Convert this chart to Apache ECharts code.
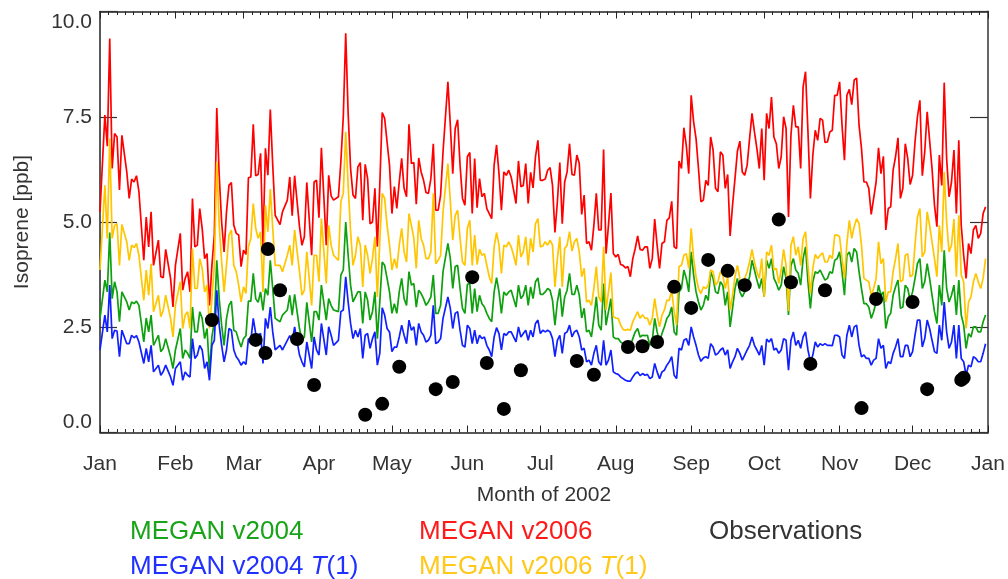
<!DOCTYPE html>
<html><head><meta charset="utf-8">
<script src="https://cdn.jsdelivr.net/npm/echarts@6/dist/echarts.min.js"></script>
<style>html,body{margin:0;padding:0;background:#fff}#c{width:1008px;height:579px}</style>
</head><body><div id="c"></div>
<script>
// Day of year 2002 (0 = Jan 1)
const days = [0,2,3,4,5,6,7,8,9,11,12,13,14,15,16,18,19,20,21,22,24,25,26,27,29,30,31,33,34,35,36,37,38,39,40,41,42,43,44,45,46,47,48,49,50,51,52,53,54,55,56,57,58,59,60,
61,62,63,64,65,66,67,68,69,70,71,72,74,75,77,78,79,80,82,83,84,85,87,88,89,90,91,93,94,95,96,98,99,100,101,102,103,104,105,106,107,108,109,110,111,112,113,114,115,116,117,118,119,120,
121,122,123,124,125,126,127,128,129,130,131,132,133,134,135,136,137,138,139,140,141,143,144,145,146,147,148,149,150,151,152,153,154,155,156,157,158,159,160,161,162,163,164,165,166,167,168,169,170,171,172,173,174,175,176,177,178,179,180,181,
182,183,184,185,186,187,188,189,190,191,192,193,194,195,196,197,198,199,200,201,202,203,204,205,206,207,208,209,210,211,212,213,214,215,216,217,218,219,220,221,222,223,224,225,226,227,228,229,230,231,232,233,234,235,236,237,238,239,240,241,242,
243,244,245,246,247,248,249,250,251,252,253,254,255,256,257,258,259,260,261,262,263,264,265,266,267,268,269,270,271,272,273,274,275,276,277,278,279,280,281,282,283,284,285,286,287,288,289,290,291,292,293,294,295,296,297,298,299,300,301,302,303,
304,305,306,307,308,309,310,311,312,313,314,315,316,317,318,319,320,321,322,323,324,325,326,327,328,329,330,331,332,333,334,335,336,337,338,339,340,341,342,343,344,345,346,347,348,349,350,351,352,353,354,355,356,357,358,359,360,361,362,363,364];

const meganV2006 = [5.24,7.54,6.80,9.36,6.27,7.10,7.02,5.76,7.06,6.19,5.56,6.02,5.95,6.10,5.72,4.09,5.12,4.41,5.24,3.97,4.57,3.70,3.68,4.35,3.66,2.98,3.97,4.73,3.38,3.66,3.82,3.34,5.56,4.41,4.45,5.32,4.85,4.13,4.25,3.02,3.97,4.69,7.71,6.11,5.00,4.29,5.24,5.87,5.94,4.92,4.73,4.69,3.94,4.33,4.23,
6.05,6.07,7.32,6.10,6.13,6.63,4.45,6.75,6.11,7.67,6.35,5.16,4.94,5.24,5.52,6.07,5.15,6.10,4.89,4.45,4.65,5.94,4.21,5.95,5.99,5.10,6.76,4.45,6.11,5.62,5.52,5.60,6.43,7.50,9.48,7.58,6.27,5.64,5.56,6.31,6.41,5.04,6.37,6.03,4.96,5.00,5.80,4.41,5.87,7.60,7.46,6.90,6.35,5.20,
5.84,5.32,5.95,6.51,5.80,5.60,7.32,6.39,6.41,5.42,6.52,6.19,5.99,5.70,5.68,6.03,6.86,5.28,5.28,5.64,6.67,8.33,7.30,6.15,7.22,7.43,6.35,5.56,5.40,6.55,6.65,5.20,6.51,5.34,6.03,5.60,5.68,5.32,5.20,5.08,6.35,6.83,6.15,5.28,6.19,6.11,6.23,6.07,5.76,5.44,6.45,5.84,5.87,6.39,5.44,6.18,5.81,6.55,6.94,5.99,
5.99,6.02,6.23,6.29,5.87,4.75,5.48,6.41,4.96,5.95,6.19,6.86,6.13,6.11,6.59,6.39,5.18,5.64,4.49,4.53,4.33,4.92,5.68,4.81,4.81,6.72,4.25,4.92,5.69,4.25,4.17,4.23,3.99,3.97,3.91,3.94,3.70,4.13,4.37,4.67,4.35,4.33,4.41,4.41,3.90,4.13,5.07,4.45,3.90,4.49,4.53,5.04,5.10,5.49,4.41,4.37,6.45,6.27,7.24,6.81,6.15,
8.01,7.38,6.98,6.27,5.48,5.52,5.99,5.87,7.02,6.71,5.80,5.72,6.67,6.59,5.80,6.13,4.67,5.40,6.03,6.68,6.92,6.19,6.11,6.35,6.98,7.58,7.14,6.75,6.27,7.22,5.99,7.58,7.22,7.97,7.02,6.86,6.27,6.55,7.50,7.22,5.12,7.06,7.77,7.26,7.26,6.27,8.21,8.57,7.14,5.56,6.59,7.18,6.94,7.46,7.42,6.89,6.90,7.14,7.18,8.01,8.01,
8.33,7.30,6.47,8.01,8.15,7.79,8.37,8.42,7.30,6.75,5.95,5.95,5.80,5.18,5.56,5.95,6.76,6.15,6.56,4.81,5.32,5.36,6.23,6.55,7.00,5.56,5.80,6.86,6.51,5.89,6.11,6.90,7.50,7.89,6.10,6.67,7.62,6.94,6.27,5.40,4.89,6.59,5.87,8.31,6.51,5.60,5.95,6.71,5.20,6.94,4.92,4.21,3.66,4.49,4.25,4.81,4.92,4.61,4.73,5.20,5.36];

const meganV2006T1 = [3.86,5.87,4.61,6.98,4.61,4.92,4.96,3.97,4.94,4.53,4.09,4.45,4.39,4.49,4.21,3.14,3.86,3.26,4.01,2.87,3.26,2.75,2.90,3.26,2.71,2.27,3.02,3.58,2.47,2.79,2.87,2.47,4.37,3.42,3.42,4.13,3.90,3.34,3.50,2.47,3.18,3.97,6.43,4.92,4.05,3.34,3.97,4.69,4.81,3.97,3.82,3.50,3.10,3.46,3.30,
4.41,4.61,5.44,4.85,4.61,4.77,3.34,5.40,4.77,5.78,4.85,3.97,3.97,3.82,4.21,4.45,3.97,4.81,3.82,3.26,3.38,4.29,3.02,4.21,4.21,3.58,5.08,3.54,4.92,4.45,4.21,4.09,5.48,5.68,7.14,5.87,4.77,3.97,4.21,4.65,4.45,3.46,4.45,4.21,3.78,4.13,4.65,3.22,4.53,5.68,5.56,4.92,4.45,3.86,
4.13,3.90,4.45,4.85,4.29,4.05,5.20,4.92,4.61,3.90,5.04,4.61,4.45,4.13,4.13,4.29,5.68,4.01,4.09,4.21,5.24,6.39,5.48,4.57,5.16,5.28,4.61,4.05,3.97,4.85,5.04,3.97,4.69,3.99,4.35,4.21,4.25,3.97,3.70,3.54,4.41,4.75,4.45,3.78,4.45,4.41,4.53,4.41,4.21,3.97,4.69,4.17,4.29,4.65,3.97,4.61,4.29,4.96,5.08,4.41,
4.43,4.53,4.45,4.57,4.45,3.46,4.13,4.65,3.46,4.37,4.45,4.77,4.31,4.53,4.61,4.29,3.70,3.90,3.10,3.14,3.02,3.42,3.94,3.22,3.10,4.41,2.91,3.34,3.80,2.75,2.72,2.71,2.55,2.45,2.43,2.45,2.43,2.63,2.75,2.87,2.71,2.80,2.71,2.72,2.55,2.71,3.18,2.79,2.51,2.79,2.91,3.14,3.14,3.38,2.87,2.55,3.94,3.97,4.21,4.25,3.90,
4.85,4.13,3.70,3.42,3.30,3.46,3.42,3.50,3.86,3.82,3.50,3.58,3.82,3.74,3.42,3.70,2.91,3.26,3.70,3.97,3.66,3.42,3.66,3.82,4.05,4.35,4.05,3.82,3.66,4.13,3.22,4.29,4.21,4.45,3.86,3.90,3.54,3.86,4.35,3.97,2.88,4.45,4.65,4.21,4.41,3.97,4.61,4.77,3.97,3.30,3.90,4.23,4.13,4.21,4.27,4.05,4.05,4.21,4.13,4.69,4.69,
4.65,4.13,3.66,4.49,5.04,4.61,4.89,5.08,4.96,4.45,3.66,3.62,3.58,3.26,3.42,3.66,4.53,4.01,4.13,3.10,3.34,3.34,3.82,4.13,4.49,3.58,3.62,4.21,4.25,3.70,3.74,4.45,5.12,5.32,4.17,4.29,5.24,4.92,4.53,4.13,3.70,4.92,4.29,6.19,5.00,4.29,4.45,5.07,3.70,5.16,3.74,3.58,2.47,3.10,3.22,3.58,3.78,3.58,3.42,3.66,4.13];

const meganV2004 = [2.71,3.62,3.34,4.75,3.18,3.58,3.34,2.63,3.34,3.10,2.91,3.10,3.06,3.12,3.02,2.15,2.72,2.39,2.79,2.07,2.31,1.92,2.00,2.23,1.80,1.52,1.96,2.47,1.76,1.96,1.88,1.76,2.98,2.39,2.39,2.87,2.71,2.23,2.47,1.44,2.27,2.63,4.09,3.18,2.55,2.07,2.71,3.02,3.12,2.43,2.39,2.19,2.03,2.23,2.30,
3.12,3.12,3.78,3.18,3.09,3.34,2.90,3.42,3.26,4.09,3.42,2.71,2.63,2.79,2.91,3.26,2.79,3.28,2.47,2.19,2.27,3.09,2.15,2.87,2.87,2.67,3.50,2.67,3.18,3.02,2.91,2.87,3.74,3.86,5.00,4.21,3.50,3.10,3.22,3.34,3.34,2.59,3.34,3.14,2.67,2.87,3.34,2.23,3.10,4.05,3.97,3.66,3.34,2.83,
3.06,2.83,3.34,3.66,3.18,3.02,3.82,3.50,3.54,2.98,3.38,3.30,3.18,3.02,3.10,3.22,3.74,2.83,2.83,3.02,3.82,4.49,4.13,3.42,3.94,3.97,3.42,2.95,2.83,3.52,3.54,2.83,3.42,2.87,3.26,3.06,2.98,2.83,2.71,2.63,3.34,3.68,3.34,2.83,3.34,3.26,3.34,3.38,3.18,2.98,3.50,3.18,3.26,3.50,3.02,3.46,3.18,3.58,3.67,3.28,
3.28,3.34,3.42,3.38,3.14,2.55,3.10,3.42,2.75,3.22,3.38,3.78,3.28,3.28,3.50,3.26,2.72,2.95,2.39,2.43,2.27,2.71,3.22,2.55,2.43,3.54,2.55,2.87,3.18,2.27,2.23,2.23,2.15,2.11,2.09,2.07,2.07,2.23,2.39,2.47,2.27,2.31,2.30,2.31,2.07,2.19,2.71,2.39,2.15,2.35,2.51,2.71,2.79,2.98,2.39,2.31,3.34,3.42,3.86,3.66,3.34,
4.29,3.74,3.34,3.10,2.91,3.02,3.26,3.14,3.82,3.66,3.34,3.30,3.58,3.50,3.02,3.34,2.51,2.95,3.42,3.66,3.34,3.22,3.34,3.50,3.70,4.09,3.86,3.62,3.42,3.66,3.22,4.09,3.90,4.13,3.66,3.54,3.38,3.50,3.94,3.66,2.79,3.97,4.13,3.86,3.78,3.50,4.13,4.41,3.58,2.95,3.58,3.82,3.78,3.86,3.74,3.62,3.66,3.82,3.78,4.09,4.13,
4.29,3.82,3.26,4.21,4.29,4.05,4.37,4.29,3.82,3.42,3.06,3.06,2.98,2.71,2.87,3.10,3.50,3.26,3.34,2.47,2.75,2.83,3.26,3.46,3.62,2.95,2.98,3.50,3.42,3.14,3.34,3.66,4.01,4.13,3.42,3.58,4.01,3.66,3.26,2.87,2.59,3.50,3.02,4.33,3.42,3.10,3.26,3.50,2.79,3.62,2.79,2.55,2.00,2.35,2.27,2.51,2.51,2.39,2.39,2.63,2.79];

const meganV2004T1 = [1.96,2.79,2.39,3.50,2.23,2.43,2.41,1.80,2.43,2.11,2.11,2.31,2.25,2.30,2.15,1.64,2.00,1.68,2.07,1.44,1.60,1.36,1.45,1.60,1.32,1.12,1.52,1.68,1.24,1.44,1.36,1.32,2.23,1.76,1.84,2.07,1.96,1.52,1.68,1.24,2.07,2.19,3.38,2.55,2.07,1.68,1.96,2.47,2.43,1.96,1.80,1.72,1.60,1.68,1.62,
2.23,2.19,2.71,2.35,2.31,2.35,1.64,2.71,2.47,2.98,2.39,1.96,2.07,1.96,2.19,2.30,2.15,2.51,1.84,1.68,1.56,2.15,1.52,2.27,1.96,1.84,2.59,1.84,2.51,2.31,2.07,2.19,2.87,2.91,3.70,3.10,2.59,2.23,2.43,2.27,2.47,1.76,2.31,2.35,2.00,2.23,2.39,1.60,1.88,2.96,2.79,2.47,2.39,1.92,
2.03,2.03,2.27,2.55,2.31,2.11,2.67,2.43,2.51,2.07,2.59,2.39,2.31,2.15,2.19,2.31,3.02,2.11,2.15,2.23,2.71,3.22,2.95,2.47,2.83,2.87,2.43,2.07,2.03,2.55,2.47,2.11,2.43,2.11,2.31,2.23,2.27,2.07,1.96,1.80,2.27,2.49,2.35,1.96,2.35,2.31,2.39,2.39,2.27,2.15,2.51,2.27,2.35,2.43,2.19,2.43,2.27,2.59,2.67,2.35,
2.43,2.39,2.43,2.39,2.23,1.80,2.19,2.31,1.88,2.35,2.39,2.55,2.27,2.39,2.43,2.27,1.96,2.00,1.68,1.72,1.60,1.88,2.07,1.68,1.60,2.19,1.60,1.72,1.96,1.44,1.40,1.38,1.32,1.28,1.24,1.22,1.22,1.32,1.40,1.44,1.35,1.40,1.36,1.38,1.28,1.32,1.64,1.44,1.28,1.44,1.48,1.60,1.68,1.80,1.36,1.28,2.00,1.96,2.19,2.23,2.07,
2.51,2.27,2.07,1.84,1.69,1.77,1.80,1.76,2.11,2.03,1.84,1.88,1.96,2.01,1.84,1.96,1.52,1.68,1.80,2.00,1.88,1.72,1.84,1.96,2.07,2.27,2.07,1.96,1.84,2.07,1.60,2.22,2.15,2.23,1.96,2.00,1.88,1.96,2.23,2.19,1.48,2.19,2.39,2.07,2.19,2.00,2.27,2.39,1.96,1.68,1.84,2.15,2.03,2.11,2.07,2.11,2.07,2.07,2.06,2.31,2.31,
2.27,1.84,1.76,2.31,2.55,2.27,2.51,2.55,2.07,1.80,1.84,1.76,1.76,1.60,1.72,1.76,2.23,2.00,2.07,1.52,1.68,1.64,1.88,2.03,2.23,1.80,1.80,2.07,2.07,1.80,1.92,2.31,2.67,2.67,2.03,2.23,2.67,2.47,2.19,1.92,1.88,2.55,2.19,3.10,2.39,2.00,2.15,2.55,1.76,2.55,1.76,1.68,1.36,1.60,1.56,1.80,1.76,1.68,1.68,1.88,2.11];

const obsDays = [46,64,68,69,74,81,88,109,116,123,138,145,153,159,166,173,196,203,217,223,229,236,243,250,258,265,279,284,292,298,313,319,334,340,354,355];
const obsValues = [2.67,2.20,1.89,4.36,3.38,2.22,1.13,0.42,0.68,1.56,1.03,1.20,3.69,1.65,0.56,1.48,1.70,1.37,2.03,2.05,2.15,3.46,2.96,4.10,3.84,3.50,5.06,3.57,1.63,3.38,0.58,3.17,3.10,1.03,1.25,1.30];

const monthStarts = [0,31,59,90,120,151,181,212,243,273,304,334,365];
const monthLabels = ['Jan','Feb','Mar','Apr','May','Jun','Jul','Aug','Sep','Oct','Nov','Dec','Jan'];

[meganV2006, meganV2006T1, meganV2004, meganV2004T1].forEach((a, i) => {
  if (a.length !== days.length) throw new Error('length mismatch series ' + i + ': ' + a.length + ' vs ' + days.length);
});

const FONT = '"Liberation Sans", Arial, Helvetica, sans-serif';
const pair = (vals) => days.map((d, i) => [d, vals[i]]);
const minorTicks = [];
for (let m = 0; m < 12; m++) {
  const s = monthStarts[m], e = monthStarts[m + 1];
  for (let k = 1; k < 9; k++) minorTicks.push(s + k * (e - s) / 9);
}

const chart = echarts.init(document.getElementById('c'), null, { renderer: 'canvas' });
const baseX = { type: 'value', min: 0, max: 365, splitLine: { show: false } };
const tickStyle = { color: '#222', width: 1 };

const lineSeries = (name, vals, color) => ({
  name, type: 'line', data: pair(vals), showSymbol: false, symbol: 'none',
  lineStyle: { color, width: 1.7 }, itemStyle: { color },
  xAxisIndex: 0, yAxisIndex: 0, silent: true
});

chart.setOption({
  animation: false,
  backgroundColor: '#fff',
  grid: { left: 100, right: 20, top: 11.5, bottom: 146.5, containLabel: false, outerBoundsMode: 'none' },
  xAxis: [
    { ...baseX, position: 'bottom',
      axisLine: { show: true, onZero: false, lineStyle: { color: '#222', width: 1.5 } },
      axisTick: { show: true, inside: true, length: 7, customValues: monthStarts, lineStyle: tickStyle },
      axisLabel: { show: true, customValues: monthStarts, margin: 21, fontSize: 21, color: '#333', fontFamily: FONT,
        formatter: (v) => monthLabels[monthStarts.indexOf(Math.round(v))] } },
    { ...baseX, position: 'bottom',
      axisLine: { show: false, onZero: false },
      axisTick: { show: true, inside: true, length: 3.5, customValues: minorTicks, lineStyle: tickStyle },
      axisLabel: { show: false } },
    { ...baseX, position: 'top',
      axisLine: { show: true, onZero: false, lineStyle: { color: '#222', width: 1.5 } },
      axisTick: { show: true, inside: true, length: 7, customValues: monthStarts, lineStyle: tickStyle },
      axisLabel: { show: false } },
    { ...baseX, position: 'top',
      axisLine: { show: false, onZero: false },
      axisTick: { show: true, inside: true, length: 3.5, customValues: minorTicks, lineStyle: tickStyle },
      axisLabel: { show: false } }
  ],
  yAxis: [
    { type: 'value', min: 0, max: 10, interval: 2.5, position: 'left', splitLine: { show: false },
      axisLine: { show: true, onZero: false, lineStyle: { color: '#222', width: 1.5 } },
      axisTick: { show: true, inside: true, length: 17, lineStyle: { color: '#333', width: 1.2 } },
      axisLabel: { show: true, margin: 8, fontSize: 21, color: '#333', fontFamily: FONT,
        verticalAlignMaxLabel: 'top', verticalAlignMinLabel: 'bottom',
        formatter: (v) => v.toFixed(1) } },
    { type: 'value', min: 0, max: 10, interval: 2.5, position: 'right', splitLine: { show: false },
      axisLine: { show: true, onZero: false, lineStyle: { color: '#666', width: 2 } },
      axisTick: { show: true, inside: true, length: 18, lineStyle: { color: '#333', width: 1.2 } },
      axisLabel: { show: false } }
  ],
  series: [
    lineSeries('MEGAN v2004', meganV2004, '#0ea00e'),
    lineSeries('MEGAN v2004 T(1)', meganV2004T1, '#1020ff'),
    lineSeries('MEGAN v2006', meganV2006, '#ff0000'),
    lineSeries('MEGAN v2006 T(1)', meganV2006T1, '#ffc600'),
    { name: 'Observations', type: 'scatter', data: obsDays.map((d, i) => [d, obsValues[i]]),
      symbol: 'circle', symbolSize: 14, itemStyle: { color: '#000', opacity: 1 }, xAxisIndex: 0, yAxisIndex: 0, z: 5, silent: true }
  ],
  graphic: [
    { type: 'text', x: 22, y: 222, rotation: Math.PI / 2,
      style: { text: 'Isoprene [ppb]', fontSize: 21, fontFamily: FONT, fill: '#333', align: 'center', verticalAlign: 'middle' } },
    { type: 'text', x: 544, y: 495,
      style: { text: 'Month of 2002', fontSize: 21, fontFamily: FONT, fill: '#333', align: 'center', verticalAlign: 'middle' } },
    { type: 'text', x: 130, y: 532,
      style: { text: 'MEGAN v2004', fontSize: 26, fontFamily: FONT, fill: '#19a319', align: 'left', verticalAlign: 'middle' } },
    { type: 'text', x: 419, y: 532,
      style: { text: 'MEGAN v2006', fontSize: 26, fontFamily: FONT, fill: '#ff1a1a', align: 'left', verticalAlign: 'middle' } },
    { type: 'text', x: 709, y: 532,
      style: { text: 'Observations', fontSize: 26, fontFamily: FONT, fill: '#333', align: 'left', verticalAlign: 'middle' } },
    { type: 'text', x: 130, y: 567,
      style: { text: 'MEGAN v2004 {it|T}(1)', fontSize: 26, fontFamily: FONT, fill: '#2030ff', align: 'left', verticalAlign: 'middle',
        rich: { it: { fontStyle: 'italic', fontSize: 26, fontFamily: FONT, fill: '#2030ff' } } } },
    { type: 'text', x: 419, y: 567,
      style: { text: 'MEGAN v2006 {it|T}(1)', fontSize: 26, fontFamily: FONT, fill: '#ffc81a', align: 'left', verticalAlign: 'middle',
        rich: { it: { fontStyle: 'italic', fontSize: 26, fontFamily: FONT, fill: '#ffc81a' } } } }
  ]
});
</script>
</body></html>
